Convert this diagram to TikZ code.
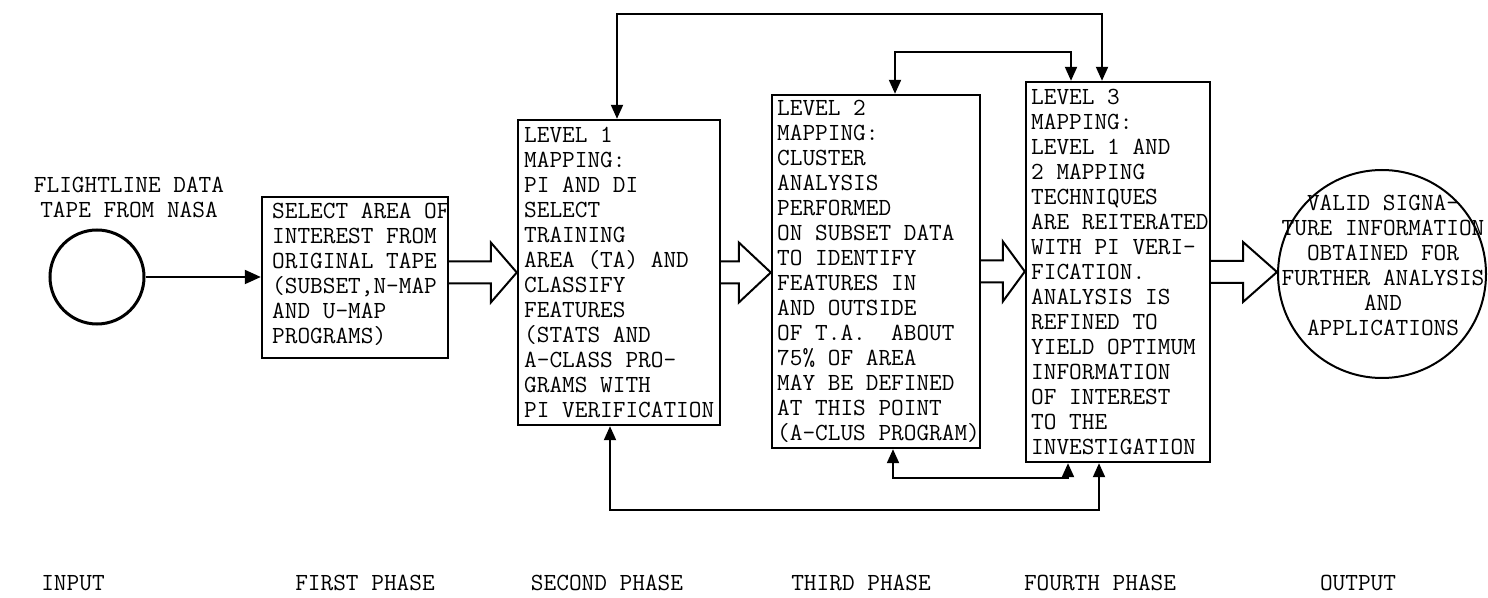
\documentclass[tikz,border=0pt]{standalone}
\usepackage{tikz}
\usetikzlibrary{arrows.meta, positioning, calc}

\tikzset{
  stagebox/.style={draw, line width=1.2pt, inner sep=0pt},
  boxtext/.style={font=\ttfamily\fontsize{12.3}{12.5}\selectfont, align=left, inner sep=0pt, anchor=west},
  phaselabel/.style={font=\ttfamily\fontsize{12.3}{12.5}\selectfont, inner sep=0pt},
  feedback/.style={line width=1pt, {Triangle[length=7pt,width=6pt]}-{Triangle[length=7pt,width=6pt]}},
  hollow/.style={line width=1pt, line join=miter}
}
\newcommand{\hollowarrow}[3]{%
  \draw[hollow] ($(#1)+(0,-11)$) -- ($(#2)+(-#3,-11)$) -- ($(#2)+(-#3,-30)$) -- (#2)
    -- ($(#2)+(-#3,30)$) -- ($(#2)+(-#3,11)$) -- ($(#1)+(0,11)$);}

\begin{document}
\begin{tikzpicture}[x=0.5pt, y=-0.5pt]
\useasboundingbox (0,0) rectangle (1488,598);
% Input tape
\node[circle, draw, line width=1.5pt, minimum size=47pt, inner sep=0pt] (in) at (97,277) {};
\node[phaselabel, align=center, above=5pt of in, xshift=16pt] (inText) {FLIGHTLINE DATA\\TAPE FROM NASA};
% Phase boxes
\node[stagebox, minimum width=93pt, minimum height=80.5pt] (sel) at (355,277.5) {};
\node[boxtext] (selText) at ([xshift=5.5pt, yshift=1.5pt]sel.west) {SELECT AREA OF\\INTEREST FROM\\ORIGINAL TAPE\\(SUBSET,N-MAP\\AND U-MAP\\PROGRAMS)};
\node[stagebox, minimum width=101pt, minimum height=152.5pt] (l1) at (619,272.5) {};
\node[boxtext] (l1Text) at ([xshift=3.5pt]l1.west) {LEVEL 1\\MAPPING:\\PI AND DI\\SELECT\\TRAINING\\AREA (TA) AND\\CLASSIFY\\FEATURES\\(STATS AND\\A-CLASS PRO-\\GRAMS WITH\\PI VERIFICATION};
\node[stagebox, minimum width=104pt, minimum height=176.5pt] (l2) at (876,271.5) {};
\node[boxtext] (l2Text) at ([xshift=3pt]l2.west) {LEVEL 2\\MAPPING:\\CLUSTER\\ANALYSIS\\PERFORMED\\ON SUBSET DATA\\TO IDENTIFY\\FEATURES IN\\AND OUTSIDE\\OF T.A.~~ABOUT\\75\% OF AREA\\MAY BE DEFINED\\AT THIS POINT\\(A-CLUS PROGRAM)};
\node[stagebox, minimum width=92pt, minimum height=190pt] (l3) at (1118,272) {};
\node[boxtext] (l3Text) at ([xshift=3pt]l3.west) {LEVEL 3\\MAPPING:\\LEVEL 1 AND\\2 MAPPING\\TECHNIQUES\\ARE REITERATED\\WITH PI VERI-\\FICATION.\\ANALYSIS IS\\REFINED TO\\YIELD OPTIMUM\\INFORMATION\\OF INTEREST\\TO THE\\INVESTIGATION};
% Output
\node[circle, draw, line width=1pt, minimum size=104pt, inner sep=0pt] (out) at (1382,274) {};
\node[phaselabel, align=center] (outText) at (1383,265) {VALID SIGNA-\\TURE INFORMATION\\OBTAINED FOR\\FURTHER ANALYSIS\\AND\\APPLICATIONS};
% Flow
\draw[line width=1pt, -{Triangle[length=8pt,width=7pt]}] (in) -- (sel.west |- in);
\hollowarrow{sel.east |- l1.west}{l1.west}{26}
\hollowarrow{l1.east}{l1.east -| l2.west}{32}
\hollowarrow{l2.east}{l2.east -| l3.west}{22}
\hollowarrow{l3.east}{l3.east -| out.west}{34}
% Feedback loops
\coordinate (topL) at (617,14);
\coordinate (topR) at (1102,14);
\coordinate (midL) at (895,52);
\coordinate (midR) at (1071,52);
\coordinate (lowL) at (893,478);
\coordinate (lowR) at (1068,478);
\coordinate (botL) at (610,510);
\coordinate (botR) at (1099,510);
\draw[feedback] (topL |- l1.north) -- (topL) -- (topR) -- (topR |- l3.north);
\draw[feedback] (midL |- l2.north) -- (midL) -- (midR) -- (midR |- l3.north);
\draw[feedback] (lowL |- l2.south) -- (lowL) -- (lowR) -- (lowR |- l3.south);
\draw[feedback] (botL |- l1.south) -- (botL) -- (botR) -- (botR |- l3.south);
% Phase labels
\foreach \xc/\nm/\lbl in {73/input/INPUT, 365/first/FIRST PHASE, 607/second/SECOND PHASE, 861/third/THIRD PHASE, 1100/fourth/FOURTH PHASE, 1358/output/OUTPUT}
  \node[phaselabel] (ph\nm) at (\xc,583) {\lbl};
\end{tikzpicture}
\end{document}
